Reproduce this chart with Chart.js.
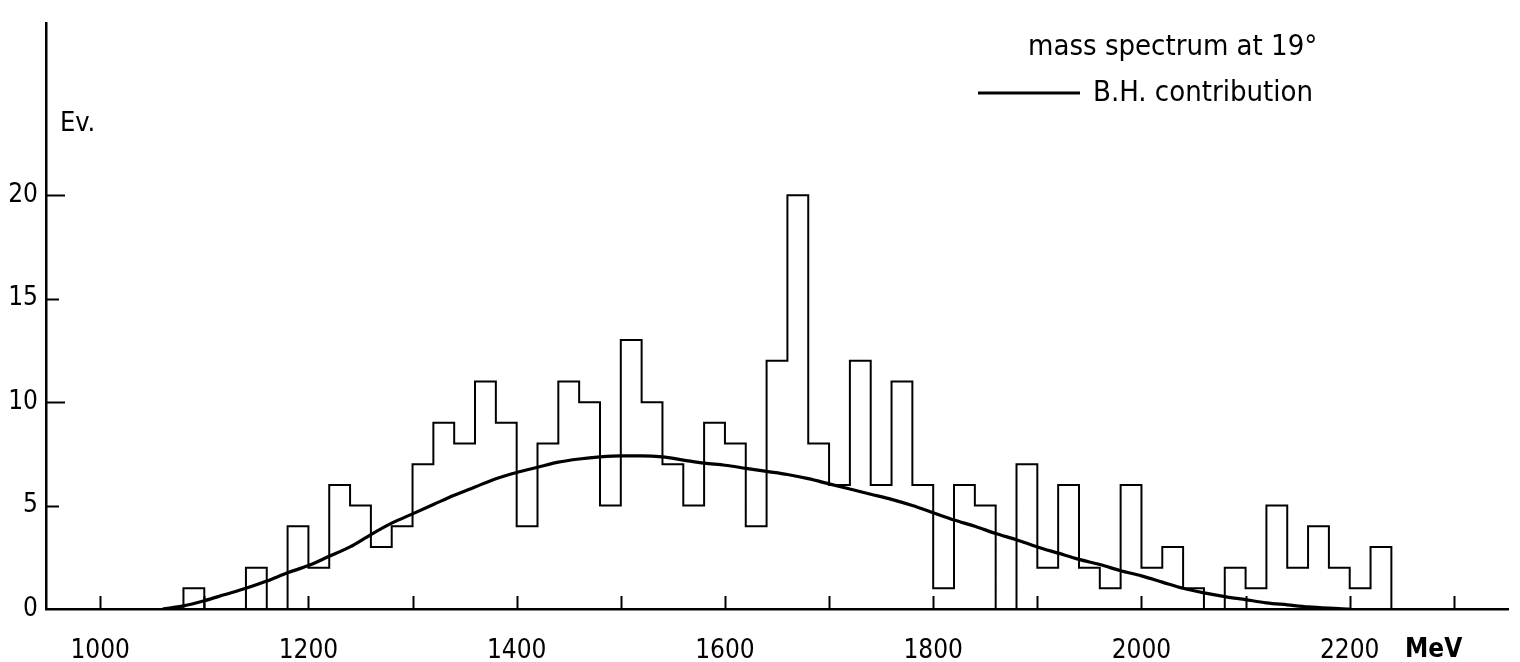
<!DOCTYPE html>
<html>
<head>
<meta charset="utf-8">
<script src="https://cdn.jsdelivr.net/npm/chart.js@4.4.1/dist/chart.umd.min.js"></script>
<style>
  html, body { margin: 0; padding: 0; background: #fff; }
  #wrap { width: 1520px; height: 662px; }
</style>
</head>
<body>
<div id="wrap"><canvas id="massChart" width="1520" height="662"></canvas></div>
<script>
// histogram bins, 20 MeV wide (lower edges, plus the last upper edge)
const binEdges = [1080, 1100, 1120, 1140, 1160, 1180, 1200, 1220, 1240, 1260,
                  1280, 1300, 1320, 1340, 1360, 1380, 1400, 1420, 1440, 1460,
                  1480, 1500, 1520, 1540, 1560, 1580, 1600, 1620, 1640, 1660,
                  1680, 1700, 1720, 1740, 1760, 1780, 1800, 1820, 1840, 1860,
                  1880, 1900, 1920, 1940, 1960, 1980, 2000, 2020, 2040, 2060,
                  2080, 2100, 2120, 2140, 2160, 2180, 2200, 2220, 2240];
const eventCounts = [1, 0, 0, 2, 0, 4, 2, 6, 5, 3,
                     4, 7, 9, 8, 11, 9, 4, 8, 11, 10,
                     5, 13, 10, 7, 5, 9, 8, 4, 12, 20,
                     8, 6, 12, 6, 11, 6, 1, 6, 5, 0,
                     7, 2, 6, 2, 1, 6, 2, 3, 1, 0,
                     2, 1, 5, 2, 4, 2, 1, 3];

// Bethe-Heitler contribution curve
const bhMass = [1060, 1080, 1100, 1120, 1140, 1160, 1180, 1200, 1220, 1240,
                1260, 1280, 1300, 1320, 1340, 1360, 1380, 1400, 1420, 1440,
                1460, 1480, 1500, 1520, 1540, 1560, 1580, 1600, 1620, 1640,
                1660, 1680, 1700, 1720, 1740, 1760, 1780, 1800, 1820, 1840,
                1860, 1880, 1900, 1920, 1940, 1960, 1980, 2000, 2020, 2040,
                2060, 2080, 2100, 2120, 2140, 2160, 2180, 2200];
const bhEvents = [0, 0.15, 0.4, 0.7, 1.0, 1.35, 1.75, 2.1, 2.55, 3.0,
                  3.6, 4.15, 4.6, 5.05, 5.5, 5.9, 6.3, 6.6, 6.85, 7.1,
                  7.25, 7.35, 7.4, 7.4, 7.35, 7.2, 7.05, 6.95, 6.8, 6.65,
                  6.5, 6.3, 6.05, 5.8, 5.55, 5.3, 5.0, 4.65, 4.3, 4.0,
                  3.65, 3.35, 3.0, 2.7, 2.4, 2.15, 1.85, 1.6, 1.3, 1.0,
                  0.78, 0.6, 0.45, 0.3, 0.2, 0.1, 0.04, 0];

const xTickValues = [1000, 1100, 1200, 1300, 1400, 1500, 1600, 1700, 1800, 1900, 2000, 2100, 2200, 2300];
const xTickLabels = ['1000', '', '1200', '', '1400', '', '1600', '', '1800', '', '2000', '', '2200', ''];
const yTickValues = [0, 5, 10, 15, 20];
const yTickLabels = ['0', '5', '10', '15', '20'];

const FONT = '"Liberation Sans Narrow", "DejaVu Sans Condensed", "Liberation Sans", sans-serif';

// outline of the histogram as a stepped line
const histPoints = [{x: binEdges[0], y: 0}];
eventCounts.forEach((c, i) => histPoints.push({x: binEdges[i], y: c}));
histPoints.push({x: binEdges[binEdges.length - 1], y: 0});

const curvePoints = bhMass.map((m, i) => ({x: m, y: bhEvents[i]}));

// ticks point inwards in the original, and the text sits on the plot
const paperMarks = {
    id: 'paperMarks',
    afterDraw(chart) {
        const {ctx, chartArea, scales} = chart;
        const x = scales.x, y = scales.y;
        ctx.save();
        ctx.strokeStyle = '#000';
        ctx.lineWidth = 2;
        yTickValues.forEach((v) => {
            if (v === 0) return;
            const py = Math.round(y.getPixelForValue(v)) + 0.5;
            const len = v % 10 === 0 ? 19 : 13;
            ctx.beginPath();
            ctx.moveTo(chartArea.left, py);
            ctx.lineTo(chartArea.left + len, py);
            ctx.stroke();
        });
        xTickValues.forEach((v) => {
            const px = Math.round(x.getPixelForValue(v)) + 0.5;
            ctx.beginPath();
            ctx.moveTo(px, chartArea.bottom);
            ctx.lineTo(px, chartArea.bottom - 13);
            ctx.stroke();
        });

        ctx.fillStyle = '#000';
        ctx.textBaseline = 'alphabetic';
        ctx.textAlign = 'left';
        ctx.font = '27px ' + FONT;
        ctx.fillText('Ev.', 60, 131);
        ctx.font = '600 26px ' + FONT;
        ctx.fillText('MeV', 1405, 657);

        ctx.font = '29px ' + FONT;
        ctx.fillText('mass spectrum at 19°', 1028, 55);
        ctx.fillText('B.H. contribution', 1093, 101);

        ctx.lineWidth = 3;
        ctx.beginPath();
        ctx.moveTo(978, 93);
        ctx.lineTo(1080, 93);
        ctx.stroke();
        ctx.restore();
    }
};

const ctx = document.getElementById('massChart').getContext('2d');

new Chart(ctx, {
    type: 'line',
    data: {
        datasets: [{
            label: 'mass spectrum at 19°',
            data: histPoints,
            stepped: 'before',
            borderColor: '#000',
            borderWidth: 2,
            pointRadius: 0,
            fill: false,
        }, {
            label: 'B.H. contribution',
            data: curvePoints,
            borderColor: '#000',
            borderWidth: 3.2,
            pointRadius: 0,
            cubicInterpolationMode: 'monotone',
            fill: false,
        }],
    },
    options: {
        responsive: false,
        animation: false,
        layout: {
            padding: {top: 10, right: 12, left: 0, bottom: 0},
        },
        plugins: {
            legend: {display: false},
            tooltip: {enabled: false},
        },
        scales: {
            x: {
                type: 'linear',
                min: 948,
                max: 2352,
                border: {display: true, color: '#000', width: 2.5},
                grid: {display: true, drawOnChartArea: false, drawTicks: false},
                afterBuildTicks: (scale) => {
                    scale.ticks = xTickValues.map((v) => ({value: v}));
                },
                ticks: {
                    autoSkip: false,
                    maxRotation: 0,
                    padding: 27,
                    color: '#000',
                    font: {family: FONT, size: 26},
                    callback: (value, index) => xTickLabels[index],
                },
                afterFit: (scale) => { scale.height = 53; },
            },
            y: {
                type: 'linear',
                min: 0,
                max: 28.3,
                border: {display: true, color: '#000', width: 2.5},
                grid: {display: true, drawOnChartArea: false, drawTicks: false},
                afterBuildTicks: (scale) => {
                    scale.ticks = yTickValues.map((v) => ({value: v}));
                },
                ticks: {
                    padding: 8,
                    color: '#000',
                    font: {family: FONT, size: 26},
                    callback: (value, index) => yTickLabels[index],
                },
                afterFit: (scale) => { scale.width = 46; },
            },
        },
    },
    plugins: [paperMarks],
});
</script>
</body>
</html>
